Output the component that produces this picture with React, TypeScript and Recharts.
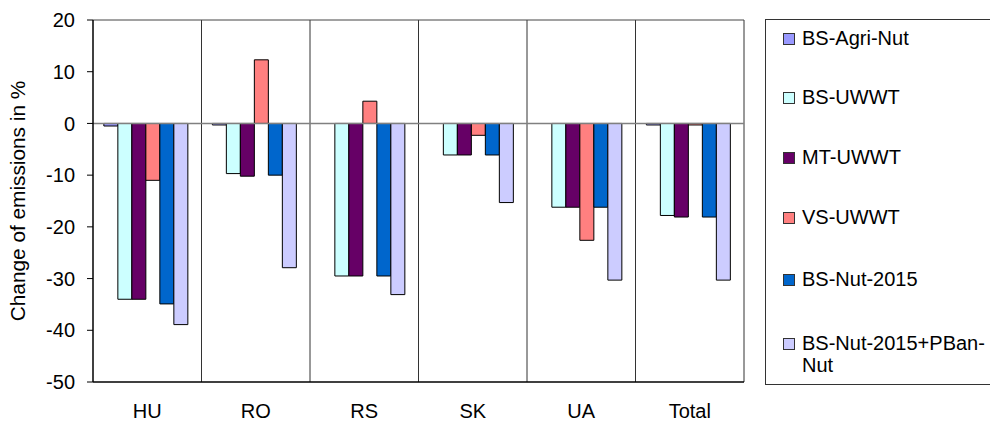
import React from 'react';
import { BarChart, Bar, XAxis, YAxis, CartesianGrid, ReferenceLine, Legend } from 'recharts';

const categories = ['HU', 'RO', 'RS', 'SK', 'UA', 'Total'];
const bsAgriNut = [-0.5, -0.3, 0, 0, 0, -0.3];
const bsUwwt = [-34, -9.7, -29.5, -6.1, -16.2, -17.8];
const mtUwwt = [-34, -10.2, -29.5, -6.1, -16.2, -18.1];
const vsUwwt = [-11, 12.3, 4.3, -2.3, -22.6, -0.3];
const bsNut2015 = [-34.9, -10, -29.5, -6.1, -16.2, -18.1];
const bsNutPban = [-38.9, -27.9, -33.1, -15.3, -30.3, -30.3];
const yTicks = [20, 10, 0, -10, -20, -30, -40, -50];

const seriesNames = ['BS-Agri-Nut', 'BS-UWWT', 'MT-UWWT', 'VS-UWWT', 'BS-Nut-2015', 'BS-Nut-2015+PBan-Nut'];
const seriesKeys = ['agri', 'uwwt', 'mt', 'vs', 'nut', 'pban'];
const seriesColors = ['#9999FF', '#CCFFFF', '#660066', '#FF8080', '#0066CC', '#CCCCFF'];

const data = categories.map((c, i) => ({
  name: c,
  agri: bsAgriNut[i],
  uwwt: bsUwwt[i],
  mt: mtUwwt[i],
  vs: vsUwwt[i],
  nut: bsNut2015[i],
  pban: bsNutPban[i],
}));

const FONT = '"Liberation Sans", Arial, sans-serif';

const legendTops = [18, 77, 137, 197, 259, 323];

const renderLegend = () => (
  <div
    style={{
      position: 'relative',
      width: 240,
      height: 366,
      border: '1px solid #333',
      boxSizing: 'border-box',
      fontFamily: FONT,
      fontSize: 20,
      color: '#000',
      background: '#fff',
    }}
  >
    {seriesNames.map((n, i) => {
      const parts = n === 'BS-Nut-2015+PBan-Nut' ? ['BS-Nut-2015+PBan-', 'Nut'] : [n];
      return (
        <div key={n} style={{ position: 'absolute', left: 17, top: legendTops[i] - 11, lineHeight: '22px' }}>
          <span
            style={{
              position: 'absolute',
              left: 0,
              top: 6,
              width: 10,
              height: 10,
              background: seriesColors[i],
              border: '1px solid #333',
            }}
          />
          <div style={{ marginLeft: 19, whiteSpace: 'nowrap' }}>
            {parts.map((p) => (
              <div key={p}>{p}</div>
            ))}
          </div>
        </div>
      );
    })}
  </div>
);

const gridGen = ({ offset }: any) => {
  const xs: number[] = [];
  for (let i = 1; i <= categories.length; i++) {
    xs.push(offset.left + (offset.width * i) / categories.length);
  }
  return xs;
};

export default function App() {
  return (
    <div style={{ position: 'absolute', left: 0, top: 0, width: 990, height: 421, overflow: 'hidden', background: '#fff' }}>
      <BarChart
        width={990}
        height={421}
        data={data}
        margin={{ top: 20, right: 246, bottom: 0, left: 0 }}
        barCategoryGap="10%"
        barGap={0}
      >
        <CartesianGrid horizontal={false} vertical verticalCoordinatesGenerator={gridGen} stroke="#333" strokeWidth={1} />
        <XAxis
          dataKey="name"
          height={39}
          tickLine={false}
          tickSize={0}
          tickMargin={22}
          axisLine={{ stroke: '#000', strokeWidth: 1.5 }}
          tick={{ fill: '#000', fontSize: 20, fontFamily: FONT }}
          interval={0}
        />
        <YAxis
          width={93}
          domain={[-50, 20]}
          ticks={yTicks}
          interval={0}
          allowDataOverflow
          tickSize={6}
          tickMargin={12}
          axisLine={{ stroke: '#000', strokeWidth: 1.5 }}
          tickLine={{ stroke: '#000' }}
          tick={{ fill: '#000', fontSize: 20, fontFamily: FONT }}
          label={{
            value: 'Change of emissions in %',
            angle: -90,
            position: 'insideLeft',
            dx: 12.5,
            style: { textAnchor: 'middle', fill: '#000', fontSize: 20.8, fontFamily: FONT },
          }}
        />
        {seriesKeys.map((k, i) => (
          <Bar key={k} dataKey={k} name={seriesNames[i]} fill={seriesColors[i]} stroke="#000" strokeWidth={1} isAnimationActive={false} />
        ))}
        <ReferenceLine y={0} stroke="#808080" strokeWidth={1.5} />
        <ReferenceLine y={20} stroke="#444" strokeWidth={1} />
        <Legend
          layout="horizontal"
          align="center"
          verticalAlign="middle"
          content={renderLegend}
          wrapperStyle={{ position: 'absolute', left: 765, top: 19, width: 240, height: 366 }}
        />
      </BarChart>
    </div>
  );
}
